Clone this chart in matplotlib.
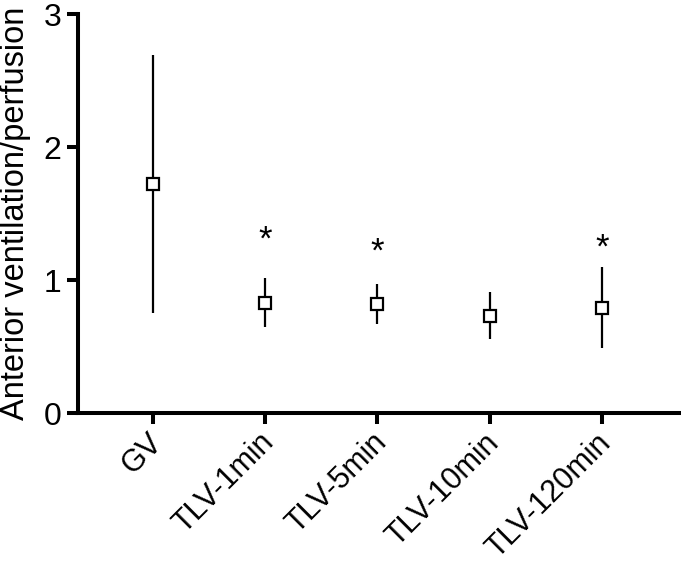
import matplotlib
matplotlib.use('Agg')
import matplotlib.pyplot as plt
import matplotlib.transforms as mtransforms
import numpy as np

plt.rcParams['font.family'] = ['Liberation Sans', 'DejaVu Sans']

# --- データ ---
groups = ['GV', 'TLV-1min', 'TLV-5min', 'TLV-10min', 'TLV-120min']
center = [1.72, 0.83, 0.82, 0.73, 0.79]
upper = [2.69, 1.015, 0.97, 0.91, 1.10]
lower = [0.75, 0.65, 0.67, 0.56, 0.49]
star_y = [None, 1.30, 1.21, None, 1.24]

x = np.arange(len(groups))
err = [np.array(center) - np.array(lower), np.array(upper) - np.array(center)]

fig = plt.figure(figsize=(6.81, 5.65), dpi=100)
ax = fig.add_axes([0.1145, 0.269, 0.8825, 0.706])

ax.errorbar(x, center, yerr=err, fmt='none', ecolor='black', elinewidth=1.6, capsize=0, zorder=2)
ax.plot(x, center, linestyle='none', marker='s', markersize=8, markerfacecolor='white',
        markeredgecolor='black', markeredgewidth=1.6, zorder=3)

# 有意差の印
for xi, sy in zip(x, star_y):
    if sy is not None:
        ax.text(xi, sy, '*', ha='center', va='center', fontsize=25)

ax.set_xlim(-0.668, 4.686)
ax.set_ylim(0, 3)
ax.set_yticks([0, 1, 2, 3])
ax.set_xticks(x)
ax.set_xticklabels(groups, rotation=45, ha='right', rotation_mode='anchor')

for s in ['top', 'right']:
    ax.spines[s].set_visible(False)
for s in ['left', 'bottom']:
    ax.spines[s].set_linewidth(2.9)
ax.spines['left'].set_capstyle('projecting')

ax.tick_params(axis='both', width=2.9, length=8, labelsize=23, pad=4)
ax.tick_params(axis='x', labelsize=22, pad=6)
ax.set_ylabel('Anterior ventilation/perfusion', fontsize=23.5, labelpad=9)

# ラベルを少し左上にずらす
offset = mtransforms.ScaledTranslation(-6 / 100, 5 / 100, fig.dpi_scale_trans)
for lab in ax.get_xticklabels():
    lab.set_transform(lab.get_transform() + offset)

fig.savefig('out.png', dpi=100)
